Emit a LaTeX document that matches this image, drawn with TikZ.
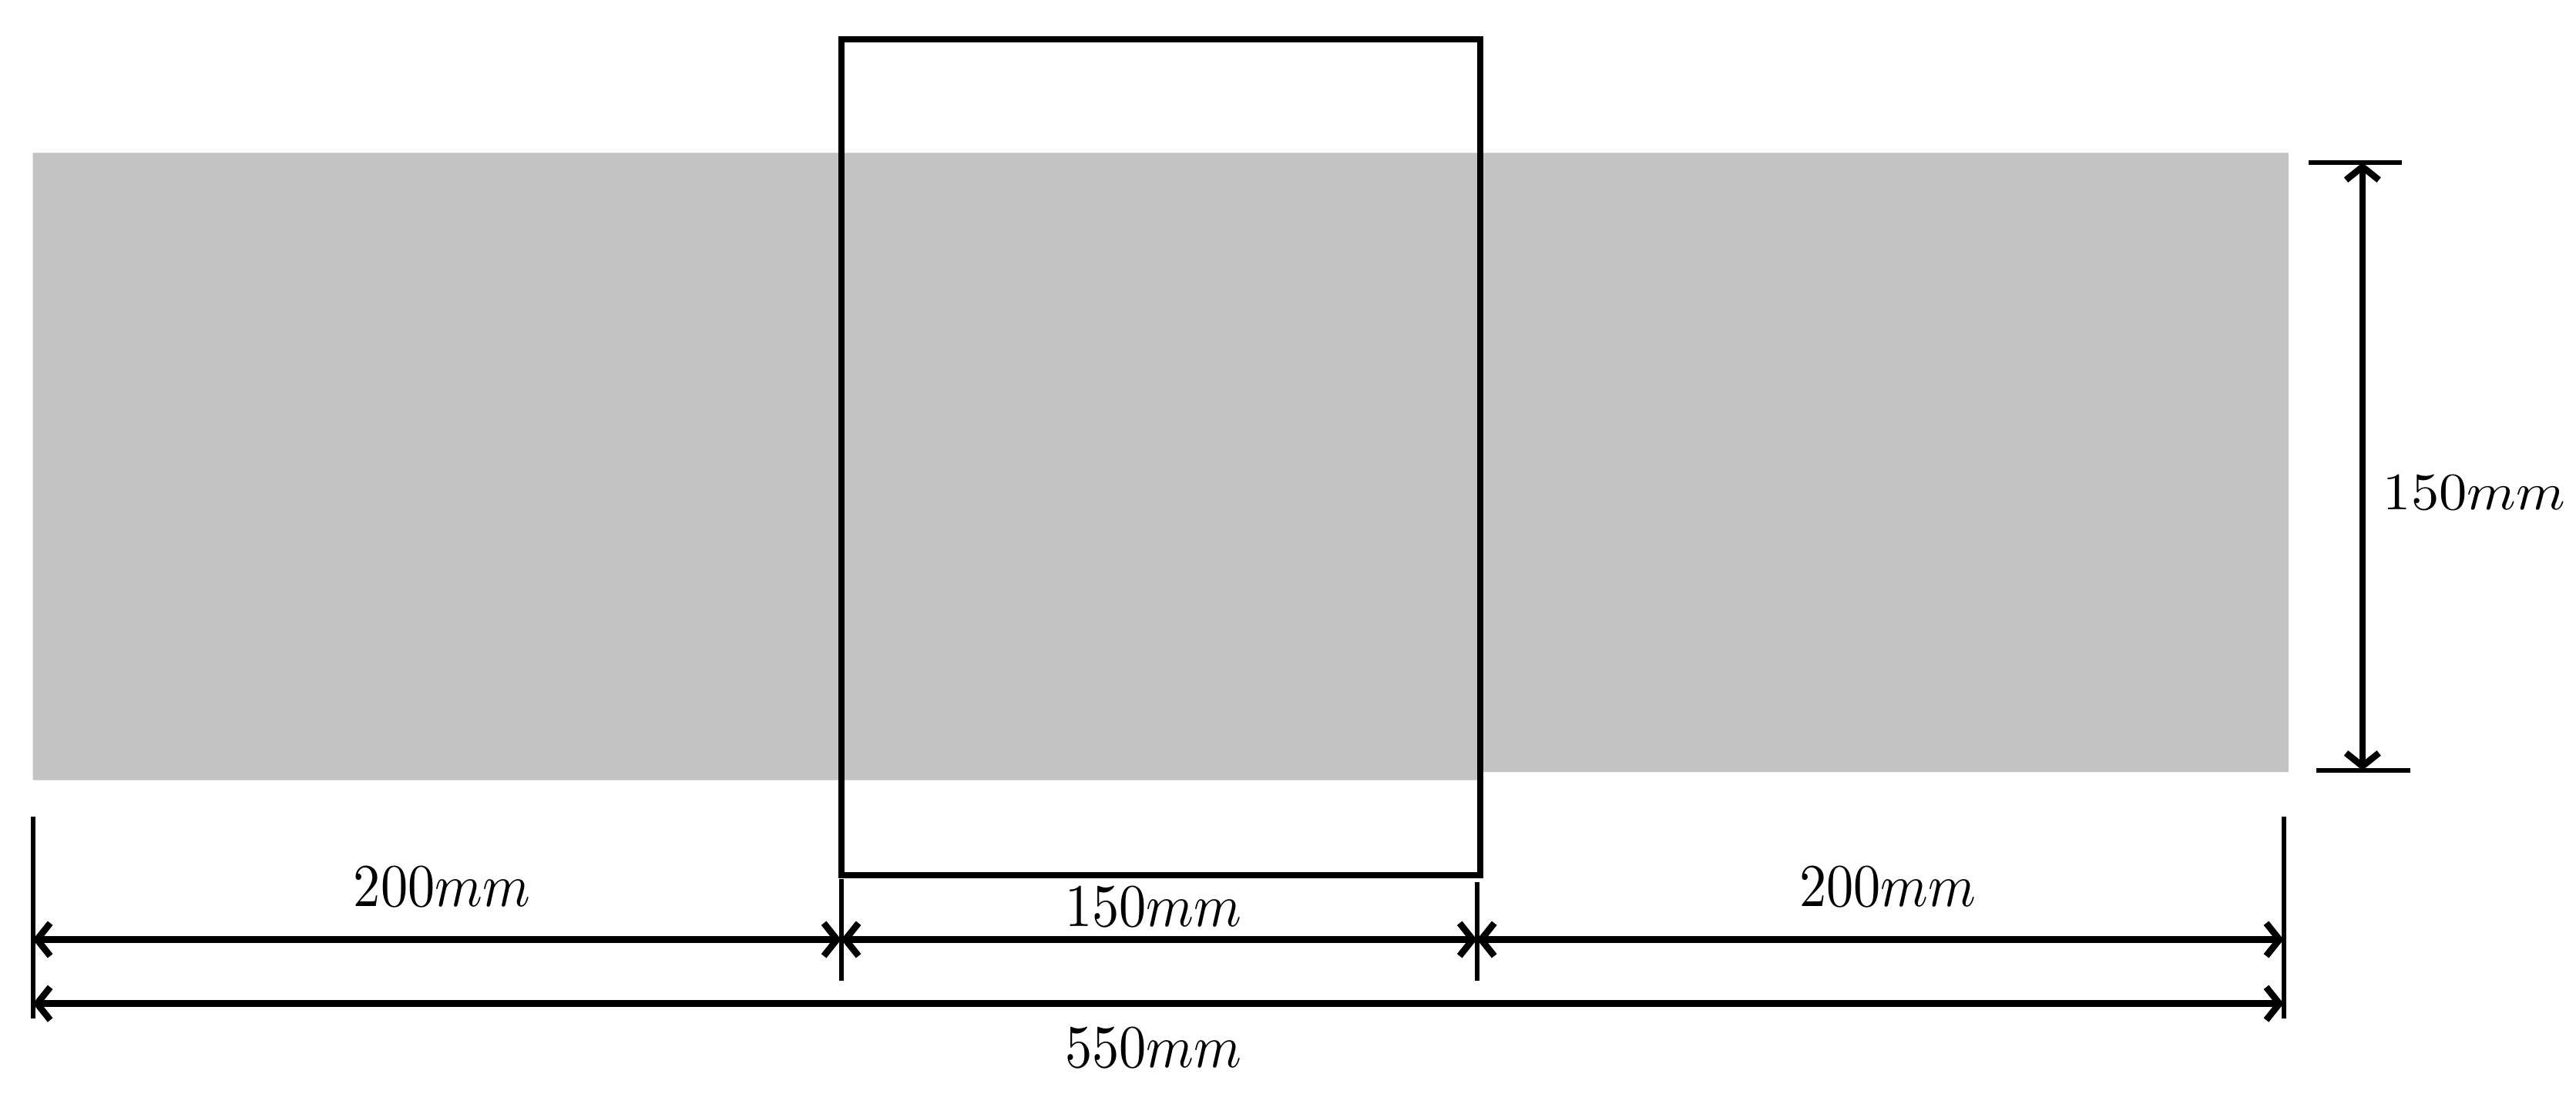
\documentclass[tikz,border=0pt]{standalone}
\usetikzlibrary{arrows.meta}
\definecolor{bandgray}{RGB}{195,195,195}
\begin{document}
\begin{tikzpicture}[x=1pt,y=-1pt,
  dimarrow/.style={line width=4.4pt,{Straight Barb[length=8pt,width=20pt,line width=4pt]}-{Straight Barb[length=8pt,width=20pt,line width=4pt]}},
  extline/.style={line width=2.8pt},
  dimlabel/.style={inner sep=0pt}]
\useasboundingbox (0,0) rectangle (1568,666);
% grey band
\fill[bandgray] (20,93) -- (1393,93) -- (1393,470) -- (901,470) -- (901,475) -- (20,475) -- cycle;
% frame
\draw[line width=3.8pt] (512,24) rectangle (901,533);
% extension lines
\coordinate (L0) at (20,497);   \coordinate (L1) at (20,620);
\coordinate (M0) at (512,535);  \coordinate (M1) at (512,597);
\coordinate (N0) at (899,537);  \coordinate (N1) at (899,597);
\coordinate (R0) at (1390,497); \coordinate (R1) at (1390,620);
\draw[extline] (L0) -- (L1);
\draw[extline] (M0) -- (M1);
\draw[extline] (N0) -- (N1);
\draw[extline] (R0) -- (R1);
% dimension arrows
\coordinate (a0) at (20,572);  \coordinate (a1) at (512,572);
\coordinate (a2) at (899,572); \coordinate (a3) at (1390,572);
\coordinate (b0) at (20,611);  \coordinate (b1) at (1390,611);
\draw[dimarrow] (a0) -- (a1);
\draw[dimarrow] (a1) -- (a2);
\draw[dimarrow] (a2) -- (a3);
\draw[dimarrow] (b0) -- (b1);
% right vertical dimension
\coordinate (t0) at (1405,99);  \coordinate (t1) at (1462,99);
\coordinate (u0) at (1410,469); \coordinate (u1) at (1467,469);
\draw[line width=3.2pt] (t0) -- (t1);
\draw[line width=3.2pt] (u0) -- (u1);
\coordinate (v0) at (1438,99); \coordinate (v1) at (1438,469);
\draw[dimarrow, line width=4pt] (v0) -- (v1);
% labels
\node[dimlabel] (l1) at (269,540) {\scalebox{3.3}[3.7]{$200mm$}};
\node[dimlabel] (l2) at (702,552) {\scalebox{3.3}[3.7]{$150mm$}};
\node[dimlabel] (l3) at (1149,540) {\scalebox{3.3}[3.7]{$200mm$}};
\node[dimlabel] (l4) at (702,638) {\scalebox{3.3}[3.7]{$550mm$}};
\node[dimlabel] (l5) at (1506,300) {\scalebox{3.4}[3.2]{$150mm$}};
\end{tikzpicture}
\end{document}
